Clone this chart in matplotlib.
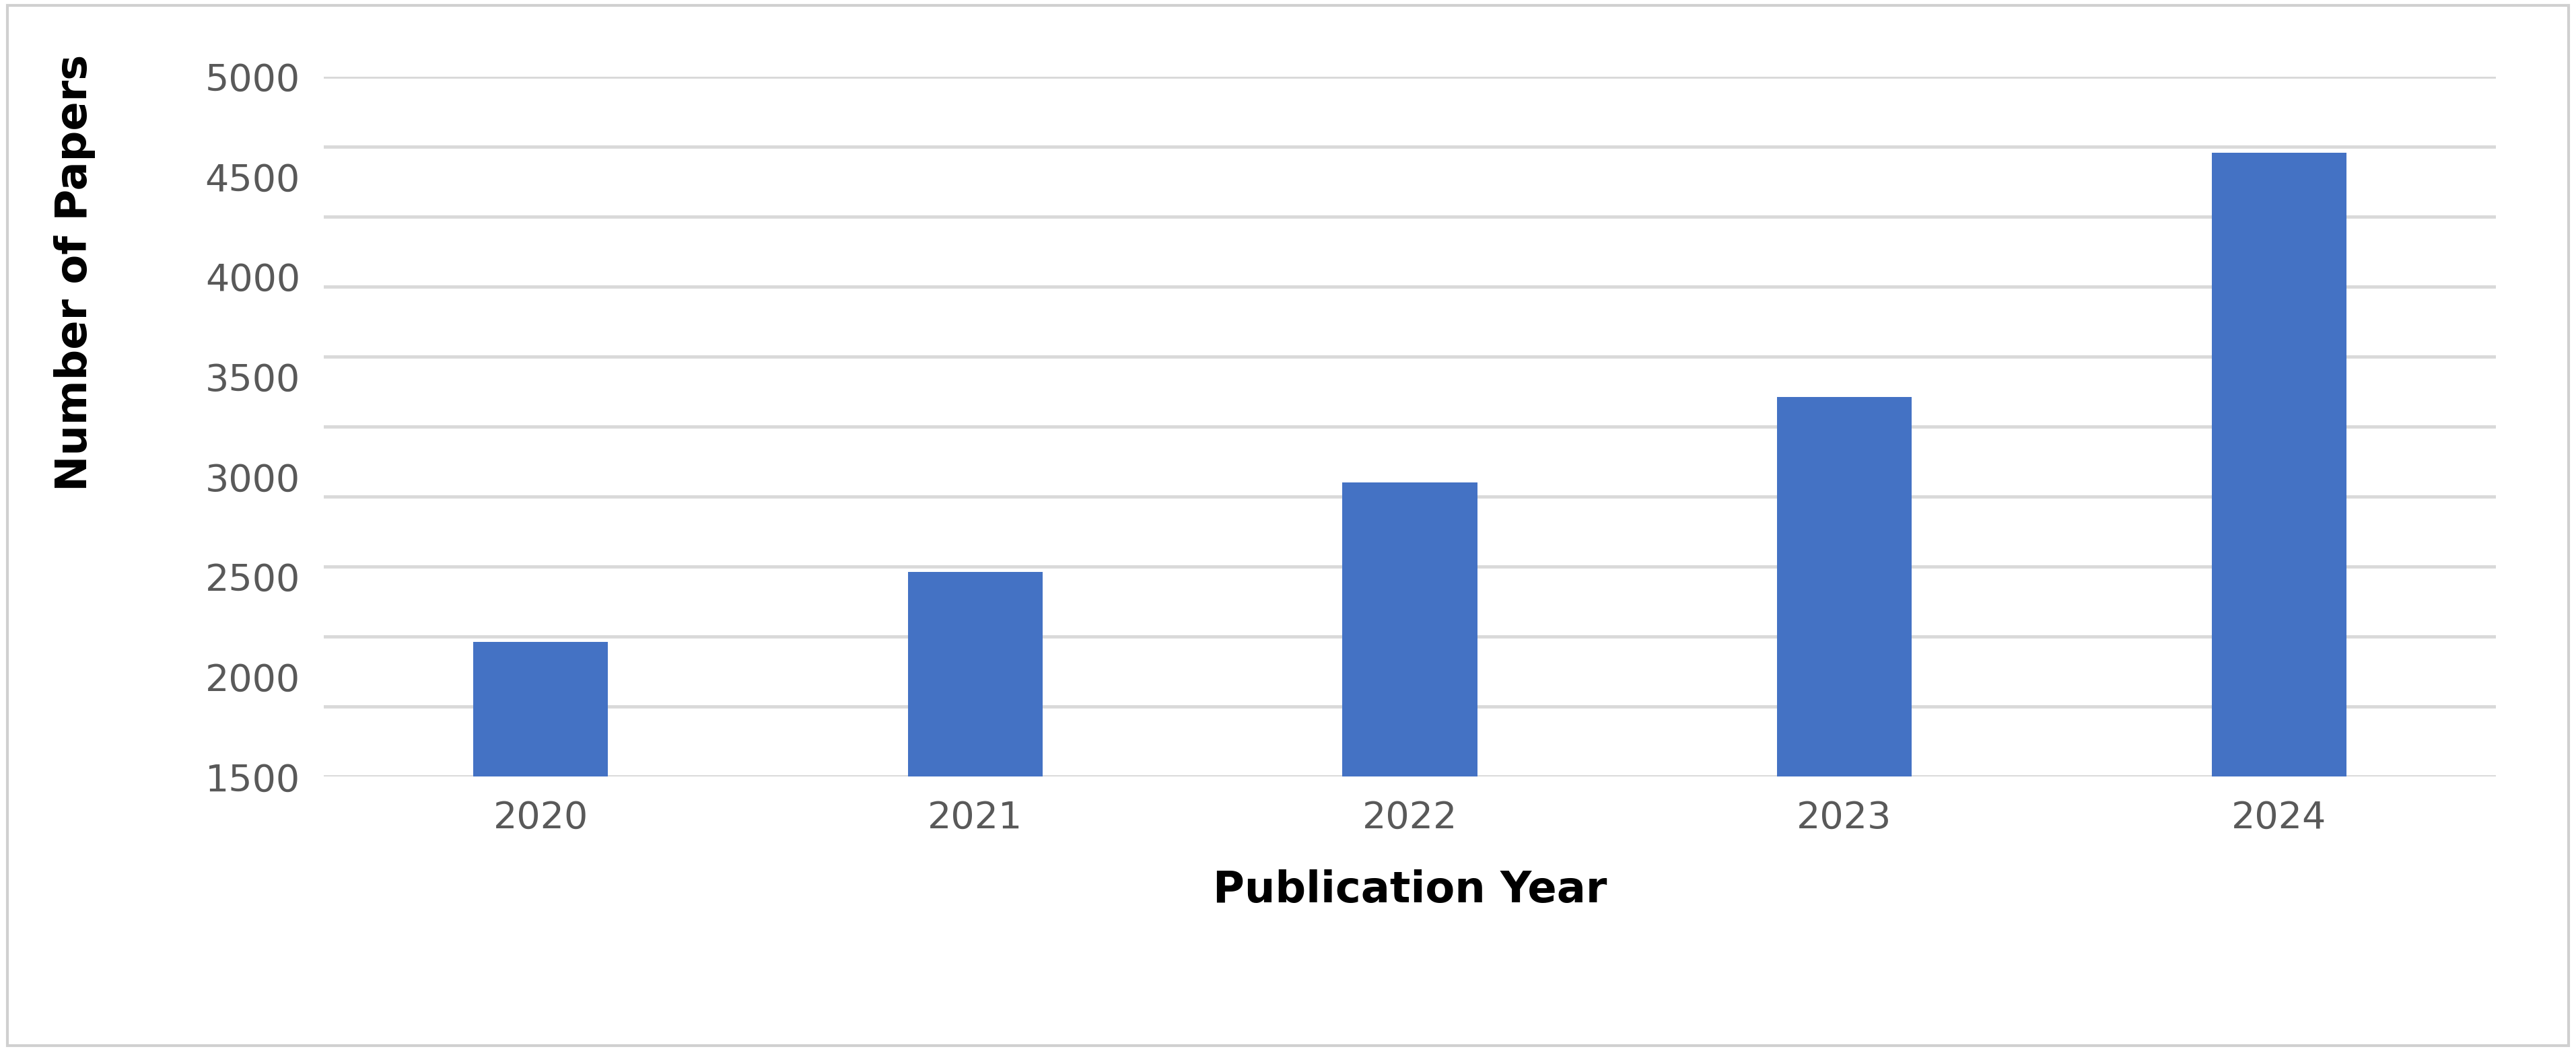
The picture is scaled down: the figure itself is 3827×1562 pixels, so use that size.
import matplotlib.pyplot as plt
import numpy as np
from matplotlib.patches import Rectangle

years = ['2020', '2021', '2022', '2023', '2024']
papers = [2175, 2525, 2970, 3400, 4620]
grid_vals = np.arange(1500, 5001, 350)
tick_vals = [1500, 2000, 2500, 3000, 3500, 4000, 4500, 5000]

fig = plt.figure(figsize=(38.27, 15.62), dpi=100)
ax = fig.add_axes([0.1256, 0.261, 0.8434, 0.666])
fig.patches.append(Rectangle((0.003, 0.005), 0.994, 0.99, transform=fig.transFigure,
                             fill=False, edgecolor='#d0d0d0', linewidth=3))

x = np.arange(len(years))
ax.bar(x, [p - 1500 for p in papers], bottom=1500, width=0.31, color='#4472C4', zorder=3)
for g in grid_vals:
    ax.axhline(g, color='#d9d9d9', linewidth=3.5, zorder=1)

ax.set_xlim(-0.5, len(years) - 0.5)
ax.set_ylim(1500, 5000)
ax.set_xticks(x)
ax.set_xticklabels(years)
ax.set_yticks(tick_vals)
ax.tick_params(axis='both', length=0, labelsize=40, labelcolor='#595959', pad=25)
for s in ax.spines.values():
    s.set_visible(False)
ax.set_xlabel('Publication Year', fontsize=46, fontweight='bold', labelpad=35)
ax.set_ylabel('Number of Papers', fontsize=46, fontweight='bold', labelpad=60)
ax.yaxis.set_label_coords(-0.105, 0.72)

fig.savefig('out.png', dpi=100)
